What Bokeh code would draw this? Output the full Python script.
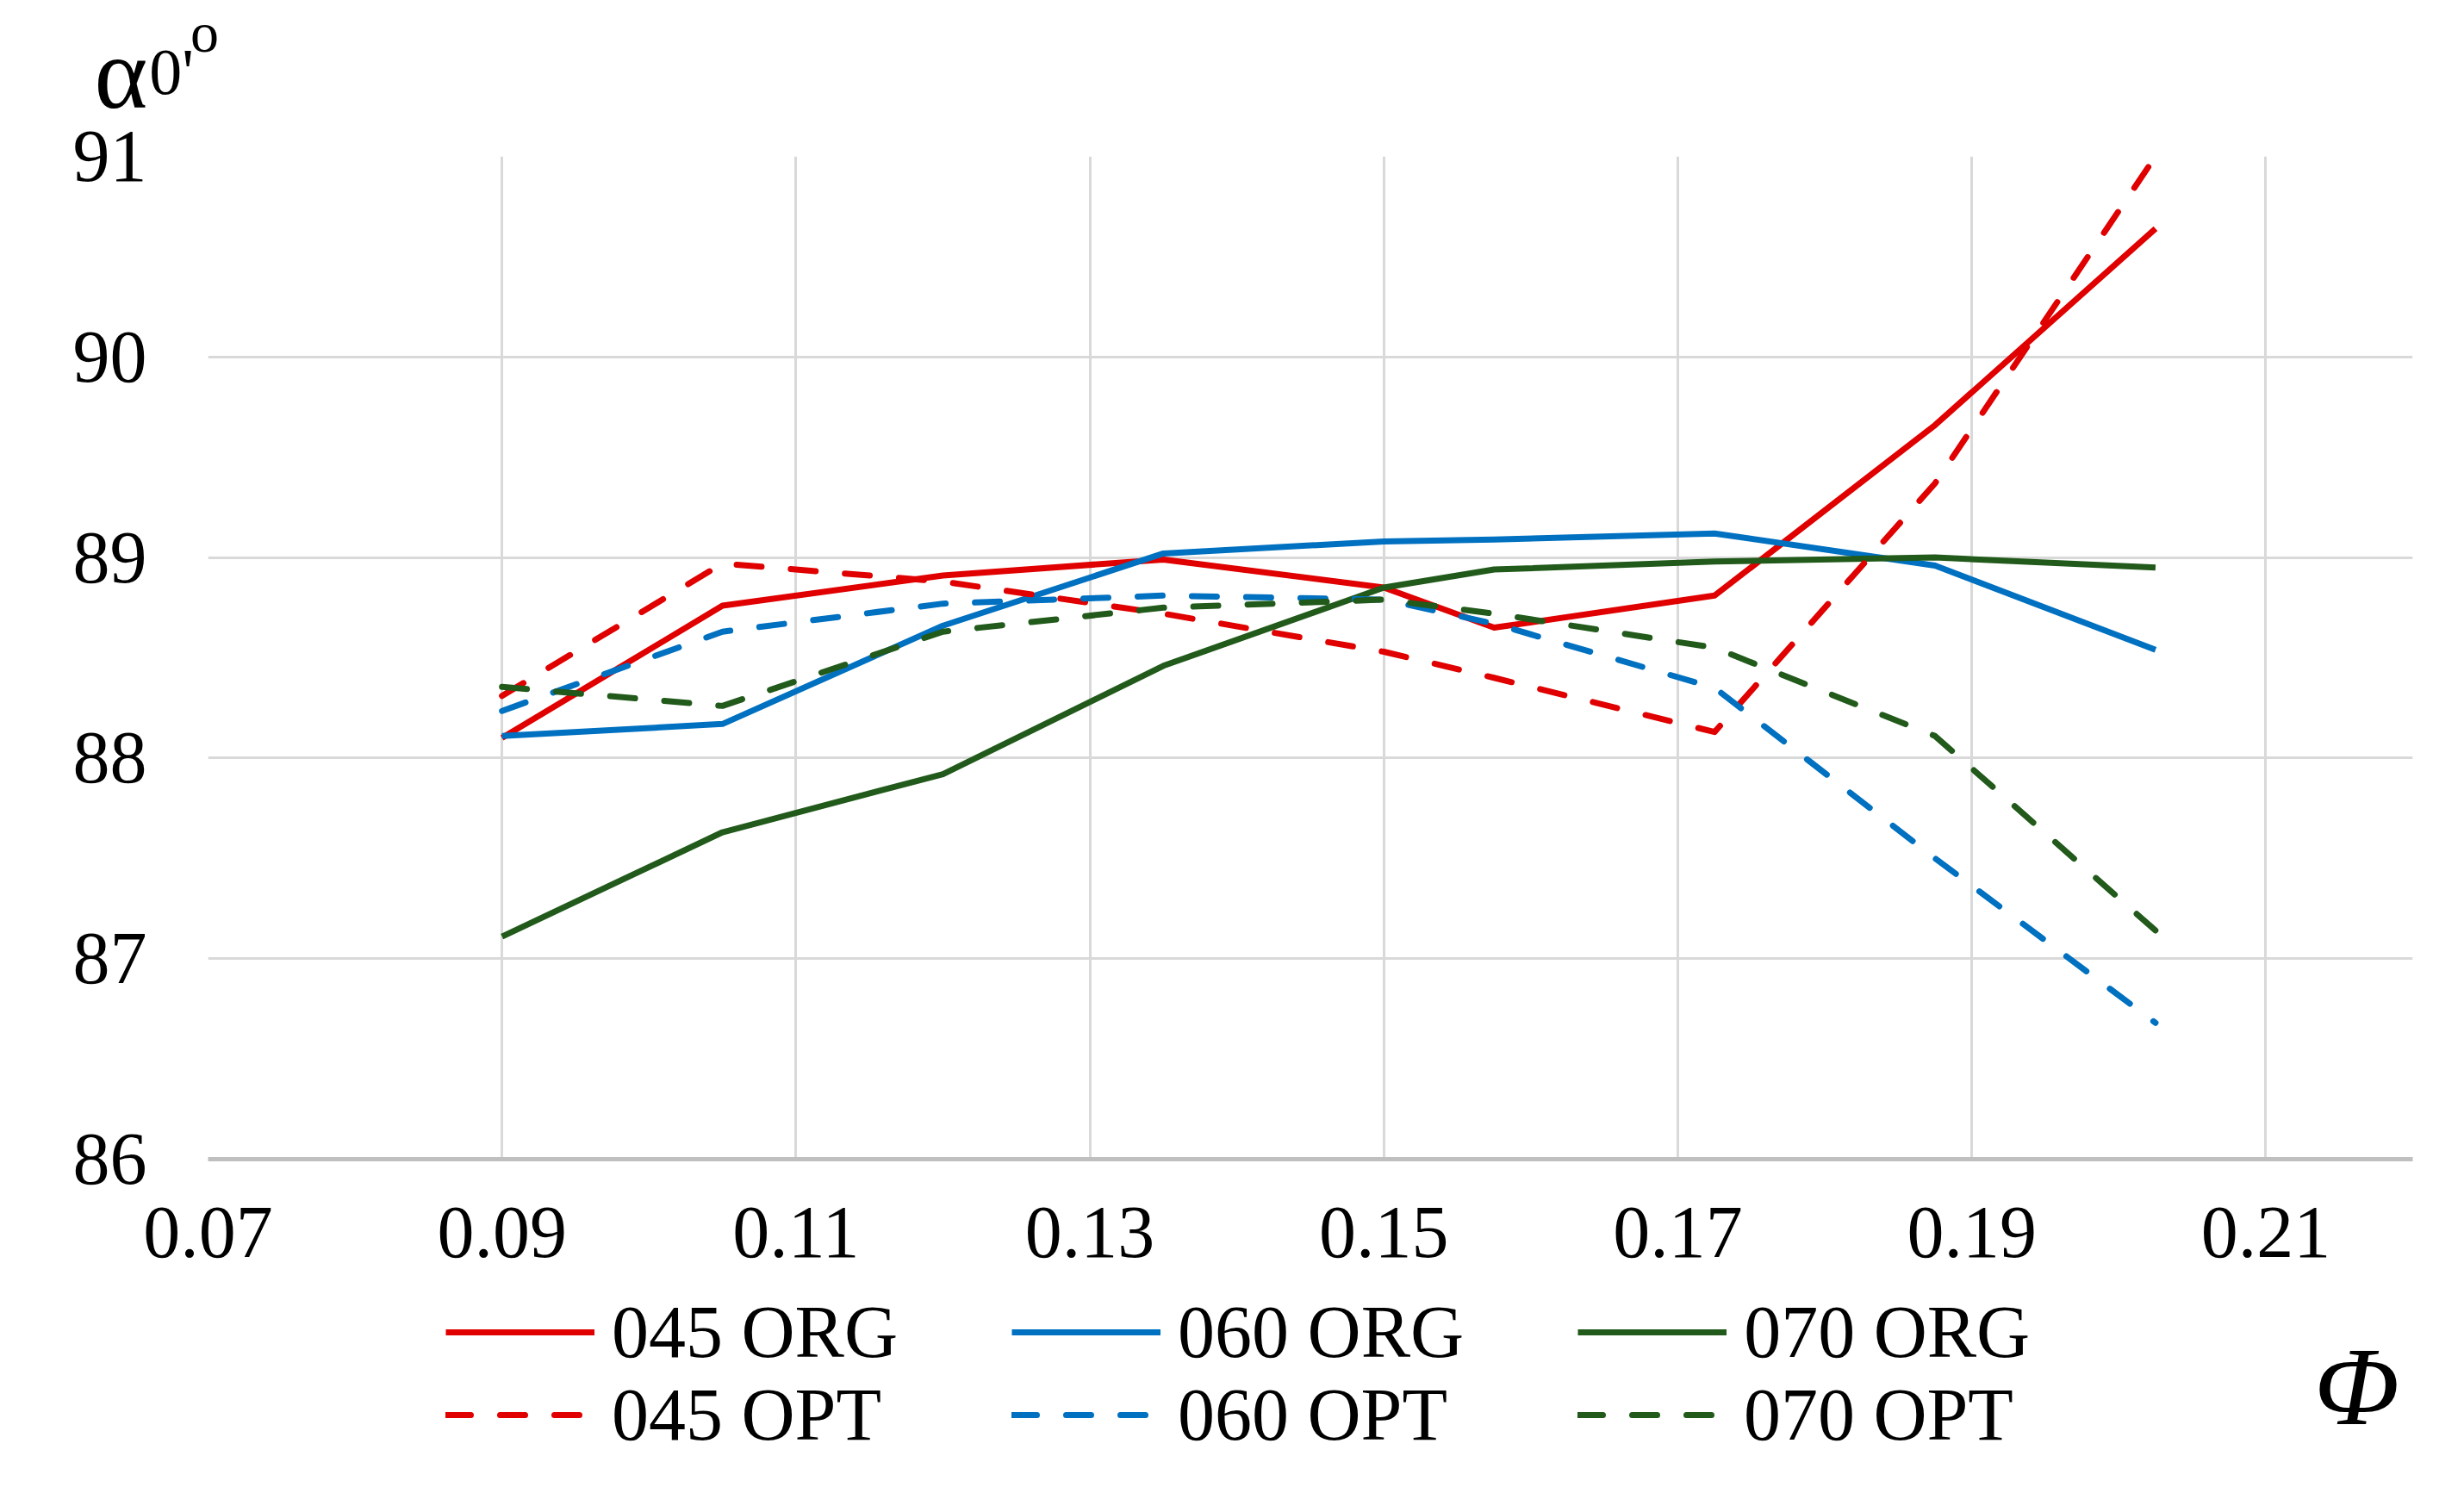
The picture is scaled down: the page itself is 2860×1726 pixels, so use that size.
import numpy as np
from bokeh.plotting import figure
from bokeh.layouts import column
from bokeh.models import Range1d, FixedTicker, Legend, LegendItem, Label, NumeralTickFormatter
from bokeh.embed import file_html
from bokeh.resources import INLINE

# ---- data ----
phi = [0.09, 0.105, 0.12, 0.135, 0.15, 0.1575, 0.1725, 0.1875, 0.2025]
org_045 = [88.10, 88.76, 88.91, 88.99, 88.85, 88.65, 88.81, 89.66, 90.64]
org_060 = [88.11, 88.17, 88.66, 89.02, 89.08, 89.09, 89.12, 88.96, 88.54]
org_070 = [87.11, 87.63, 87.92, 88.46, 88.85, 88.94, 88.98, 89.00, 88.95]
opt_045 = [88.31, 88.97, 88.88, 88.72, 88.53, 88.40, 88.13, 89.37, 91.00]
opt_060 = [88.235, 88.63, 88.77, 88.81, 88.79, 88.67, 88.35, 87.50, 86.68]
opt_070 = [88.355, 88.26, 88.63, 88.75, 88.79, 88.72, 88.55, 88.11, 87.14]
series_names = ["045 ORG", "060 ORG", "070 ORG", "045 OPT", "060 OPT", "070 OPT"]
x_ticks = [0.07, 0.09, 0.11, 0.13, 0.15, 0.17, 0.19, 0.21]
y_ticks = [86, 87, 88, 89, 90, 91]
x_title = "Φ"

RED = "#E00000"
BLUE = "#0070C0"
GREEN = "#215A1A"
FONT = "Liberation Serif"
LW = 7
DASH = "29 34"
styles = [(RED, "solid"), (BLUE, "solid"), (GREEN, "solid"),
          (RED, DASH), (BLUE, DASH), (GREEN, DASH)]
series = [org_045, org_060, org_070, opt_045, opt_060, opt_070]

W = 2844
X_STANDOFF = 56
H_MAIN = 181 + 1164 + X_STANDOFF + 95
H_LEG = 1710 - H_MAIN
FRAME_W = 2559

# ---------------- main chart ----------------
p = figure(width=W, height=H_MAIN, output_backend="svg", toolbar_location=None,
           x_range=Range1d(0.07, 0.22), y_range=Range1d(86, 91))
p.min_border_left = 241
p.min_border_right = W - 241 - FRAME_W
p.min_border_top = 181
p.min_border_bottom = H_MAIN - 181 - 1164
p.outline_line_color = None
p.background_fill_color = "white"

p.xaxis.ticker = FixedTicker(ticks=x_ticks)
p.yaxis.ticker = FixedTicker(ticks=y_ticks)
p.xaxis.formatter = NumeralTickFormatter(format="0.00")
p.yaxis.formatter = NumeralTickFormatter(format="0")
for ax in (p.xaxis, p.yaxis):
    ax.major_tick_line_color = None
    ax.minor_tick_line_color = None
    ax.major_tick_out = 0
    ax.major_tick_in = 0
    ax.major_label_text_font = FONT
    ax.major_label_text_font_size = "86px"
    ax.major_label_text_color = "black"
p.xaxis.axis_line_color = "#BFBFBF"
p.xaxis.axis_line_width = 5
p.yaxis.axis_line_color = None
p.xaxis.major_label_standoff = X_STANDOFF
p.yaxis.major_label_standoff = 71

p.xgrid.ticker = FixedTicker(ticks=x_ticks)
p.ygrid.ticker = FixedTicker(ticks=y_ticks)
for g in (p.xgrid, p.ygrid):
    g.grid_line_color = "#D9D9D9"
    g.grid_line_width = 3

for ys, (color, dash) in zip(series, styles):
    p.line(phi, ys, line_color=color, line_width=LW, line_dash=dash,
           line_cap="round" if dash != "solid" else "butt", line_join="round")

# y-axis title: alpha_0'°  (side panels, so it is not clipped by the frame)
p.add_layout(Label(x=0.06226, y=91.412, text="α", text_font=FONT, text_font_size="118px",
                   text_align="left", text_baseline="alphabetic", text_color="black"), "above")
p.add_layout(Label(x=0.06600, y=91.421, text="0'", text_font=FONT, text_font_size="76px",
                   text_align="left", text_baseline="alphabetic", text_color="black"), "left")
p.add_layout(Label(x=0.06880, y=91.619, text="o", text_font=FONT, text_font_size="66px",
                   text_align="left", text_baseline="alphabetic", text_color="black"), "right")

# ---------------- legend strip (frame aligned with the chart frame) ----------------
q = figure(width=W, height=H_LEG, output_backend="svg", toolbar_location=None,
           x_range=Range1d(0, FRAME_W), y_range=Range1d(0, H_LEG),
           x_axis_location=None, y_axis_location=None)
q.min_border_left = 241
q.min_border_right = W - 241 - FRAME_W
q.min_border_top = 0
q.min_border_bottom = 0
q.outline_line_color = None
q.grid.visible = False

nan2 = np.array([np.nan, np.nan])
keys = []
for color, dash in styles:
    keys.append(q.line(nan2, nan2, line_color=color, line_width=LW, line_dash=dash,
                       line_cap="round" if dash != "solid" else "butt"))


def make_legend(idx, spacing, vy):
    return Legend(items=[LegendItem(label=series_names[i], renderers=[keys[i]]) for i in idx],
                  orientation="horizontal", location=(276, vy),
                  padding=0, margin=0, border_line_color=None, background_fill_alpha=0,
                  glyph_width=173, glyph_height=60, label_standoff=20, spacing=spacing,
                  label_text_font=FONT, label_text_font_size="86px", label_text_color="black")


q.add_layout(make_legend([0, 1, 2], 132, H_LEG - 100), "center")
q.add_layout(make_legend([3, 4, 5], 151, H_LEG - 196), "center")

# x-axis title
q.add_layout(Label(x=2494, y=102, text=x_title, text_font=FONT, text_font_size="130px",
                   text_font_style="italic", text_align="center", text_baseline="alphabetic",
                   text_color="black"))

open("out.html", "w").write(file_html(column(p, q), INLINE))
